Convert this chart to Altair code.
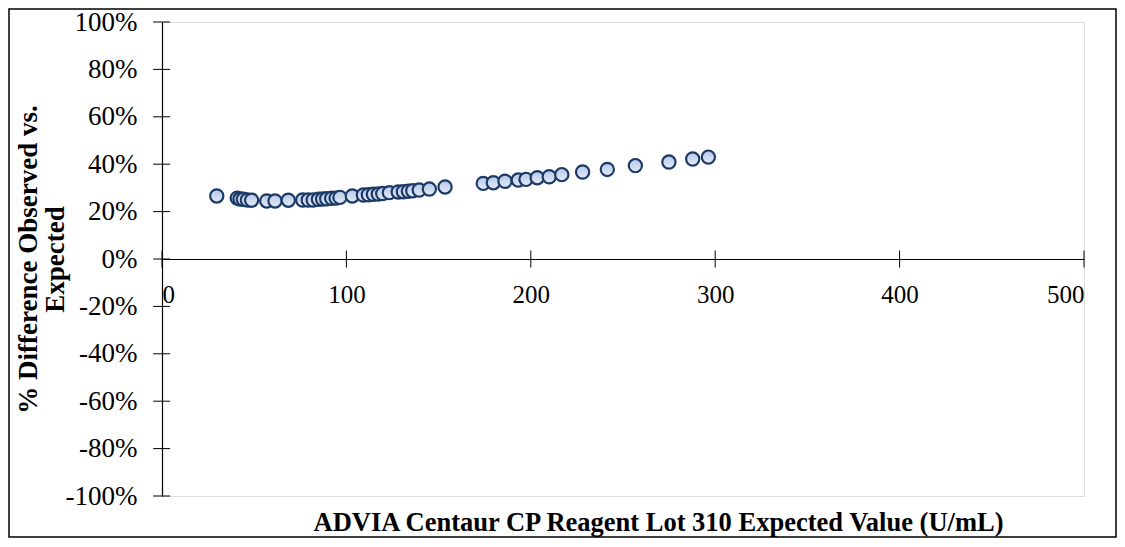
import altair as alt
import pandas as pd

# Expected value (U/mL)
expected = [29.7, 40.8, 42.3, 44.1, 46.3, 48.6, 56.8, 61.3, 68.5, 76.3, 79.3, 82.0,
            84.8, 87.1, 89.3, 92.0, 94.4, 96.5, 103.2, 109.2, 111.9, 114.6, 117.3,
            119.7, 123.3, 128.1, 130.9, 133.6, 136.0, 139.5, 145.0, 153.5, 174.2,
            179.7, 186.0, 193.2, 197.4, 203.5, 210.0, 216.8, 228.1, 241.5, 256.7,
            274.9, 287.8, 296.3]
# % difference observed vs expected
pct_diff = [26.6, 25.7, 25.3, 25.2, 24.9, 24.8, 24.5, 24.5, 24.8, 24.9, 24.9, 24.9,
            25.2, 25.3, 25.4, 25.6, 25.7, 26.0, 26.6, 27.0, 27.1, 27.3, 27.4,
            27.6, 28.0, 28.3, 28.4, 28.6, 28.8, 29.1, 29.5, 30.4, 31.9,
            32.2, 32.8, 33.3, 33.6, 34.3, 34.7, 35.6, 36.7, 37.8, 39.4,
            40.9, 42.2, 43.0]

x_ticks = [0, 100, 200, 300, 400, 500]
y_ticks = [-100, -80, -60, -40, -20, 0, 20, 40, 60, 80, 100]

FONT = "Liberation Serif"
W, H = 922, 474

df = pd.DataFrame({"x": expected, "y": pct_diff})
xt = pd.DataFrame({"x": x_ticks})
yt = pd.DataFrame({"y": y_ticks})

xscale = alt.Scale(domain=[0, 500], nice=False, zero=False)
yscale = alt.Scale(domain=[-100, 100], nice=False)

grad = alt.LinearGradient(
    gradient="linear",
    stops=[alt.GradientStop(color="#b5c7e8", offset=0),
           alt.GradientStop(color="#e4ebf8", offset=1)],
    x1=0, x2=0, y1=0, y2=1,
)

points = alt.Chart(df).mark_point(
    shape="circle", filled=True, size=175, fill=grad, stroke="#1c3a66",
    strokeWidth=2.2, opacity=1
).encode(
    x=alt.X("x:Q", scale=xscale, axis=alt.Axis(
        values=x_ticks, offset=-H / 2, grid=False, ticks=False, tickSize=0,
        domainColor="black", domainWidth=1.2, labelPadding=23,
        labelFont=FONT, labelFontSize=25, labelColor="black",
        title="ADVIA Centaur CP Reagent Lot 310 Expected Value (U/mL)",
        titleFont=FONT, titleFontSize=26.5, titleFontWeight="bold", titleColor="black",
        titleX=496, titleY=271, titleBaseline="alphabetic", titleAlign="center",
    )),
    y=alt.Y("y:Q", scale=yscale, axis=alt.Axis(
        values=y_ticks, grid=False, ticks=False, tickSize=0,
        domainColor="black", domainWidth=1.2, labelPadding=25,
        labelExpr="datum.value + '%'",
        labelFont=FONT, labelFontSize=27, labelColor="black",
        title=["% Difference Observed vs.", "Expected"],
        titleFont=FONT, titleFontSize=27, titleFontWeight="bold", titleColor="black",
        titleLineHeight=27, titleAngle=270, titleX=-134, titleY=H / 2,
        titleAlign="center", titleBaseline="middle",
    )),
)

xtick_rules = alt.Chart(xt).mark_rule(color="black", strokeWidth=1).encode(
    x="x:Q", y=alt.datum(-3.6), y2=alt.datum(3.6)
)
ytick_rules = alt.Chart(yt).mark_rule(color="black", strokeWidth=1).encode(
    y="y:Q", x=alt.datum(-4.8), x2=alt.datum(4.4)
)

border = alt.Chart(pd.DataFrame({"a": [0]})).mark_rect(
    fill=None, fillOpacity=0, stroke="black", strokeWidth=1.5
).encode(
    x=alt.value(-153), x2=alt.value(954), y=alt.value(-13), y2=alt.value(515)
)

chart = alt.layer(border, xtick_rules, ytick_rules, points).properties(
    width=W, height=H,
    autosize=alt.AutoSizeParams(type="none"),
    padding={"left": 154, "top": 14, "right": 33, "bottom": 43},
).configure_view(stroke=None).configure(background="white")

chart.save("out.html", embed_options={"renderer": "svg", "actions": False})
